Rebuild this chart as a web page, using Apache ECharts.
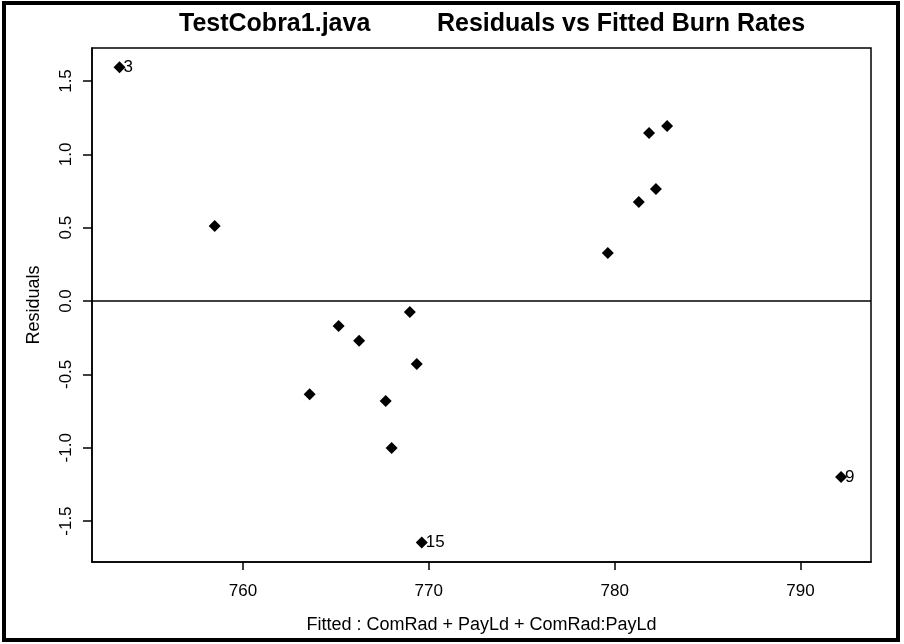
<!DOCTYPE html>
<html>
<head>
<meta charset="utf-8">
<script src="https://cdn.jsdelivr.net/npm/echarts@6/dist/echarts.min.js"></script>
<style>
  html, body { margin: 0; padding: 0; background: #fff; }
  #main { width: 904px; height: 644px; }
</style>
</head>
<body>
<div id="main"></div>
<script>
// fitted values and residuals
var fitted = [753.36, 758.48, 765.15, 766.25, 768.98, 769.35, 763.59, 767.68, 768.0, 769.62, 779.63, 781.30, 782.22, 781.85, 782.82, 792.18];
var resid = [1.593, 0.511, -0.170, -0.271, -0.075, -0.429, -0.636, -0.682, -1.002, -1.646, 0.327, 0.675, 0.763, 1.145, 1.193, -1.200];
// observation numbers flagged on the plot
var obsLabels = ['3', '', '', '', '', '', '', '', '', '15', '', '', '', '', '', '9'];
var xTicks = [760, 770, 780, 790];
var yTicks = [-1.5, -1.0, -0.5, 0.0, 0.5, 1.0, 1.5];

var font = '"Liberation Sans", Arial, sans-serif';

var points = [];
for (var i = 0; i < fitted.length; i++) {
    points.push({
        value: [fitted[i], resid[i]],
        label: { show: obsLabels[i] !== '', formatter: obsLabels[i] }
    });
}

var chart = echarts.init(document.getElementById('main'), null, { renderer: 'canvas' });

var option = {
    backgroundColor: '#fff',
    animation: false,
    title: [{
        text: 'TestCobra1.java',
        left: 174,
        top: 7,
        textStyle: { fontFamily: font, fontWeight: 'bold', fontSize: 25, color: '#000' }
    }, {
        text: 'Residuals vs Fitted Burn Rates',
        left: 432,
        top: 7,
        textStyle: { fontFamily: font, fontWeight: 'bold', fontSize: 25, color: '#000' }
    }],
    graphic: [{
        type: 'rect',
        shape: { x: 4, y: 3, width: 894, height: 637 },
        style: { fill: null, stroke: '#000', lineWidth: 4 },
        silent: true
    }],
    grid: {
        left: 92,
        right: 33,
        top: 48,
        bottom: 82,
        show: true,
        borderColor: '#000',
        borderWidth: 1.5
    },
    xAxis: {
        type: 'value',
        min: 751.88,
        max: 793.79,
        name: 'Fitted : ComRad + PayLd + ComRad:PayLd',
        nameLocation: 'middle',
        nameGap: 54,
        nameTextStyle: { fontFamily: font, fontSize: 18, color: '#000' },
        splitLine: { show: false },
        axisLine: { show: true, onZero: false, lineStyle: { color: '#000', width: 1.5 } },
        axisTick: { show: true, customValues: xTicks, length: 8, lineStyle: { color: '#000', width: 1.5 } },
        axisLabel: { customValues: xTicks, margin: 21, fontFamily: font, fontSize: 17, color: '#000' }
    },
    yAxis: {
        type: 'value',
        min: -1.779,
        max: 1.725,
        name: 'Residuals',
        nameLocation: 'middle',
        nameGap: 49,
        nameTextStyle: { fontFamily: font, fontSize: 18, color: '#000' },
        splitLine: { show: false },
        axisLine: { show: true, onZero: false, lineStyle: { color: '#000', width: 1.5 } },
        axisTick: { show: true, customValues: yTicks, length: 9, lineStyle: { color: '#000', width: 1.5 } },
        axisLabel: {
            customValues: yTicks,
            rotate: 90,
            margin: 17,
            fontFamily: font,
            fontSize: 17,
            color: '#000',
            formatter: function (v) { return v.toFixed(1); }
        }
    },
    series: [{
        type: 'scatter',
        data: points,
        symbol: 'diamond',
        symbolSize: 12,
        itemStyle: { color: '#000', opacity: 1 },
        label: {
            position: 'right',
            distance: -2,
            fontFamily: font,
            fontSize: 17,
            color: '#000'
        },
        markLine: {
            silent: true,
            symbol: 'none',
            label: { show: false },
            lineStyle: { color: '#000', width: 1.5, type: 'solid', opacity: 1 },
            data: [{ yAxis: 0 }]
        }
    }]
};

chart.setOption(option);
</script>
</body>
</html>
